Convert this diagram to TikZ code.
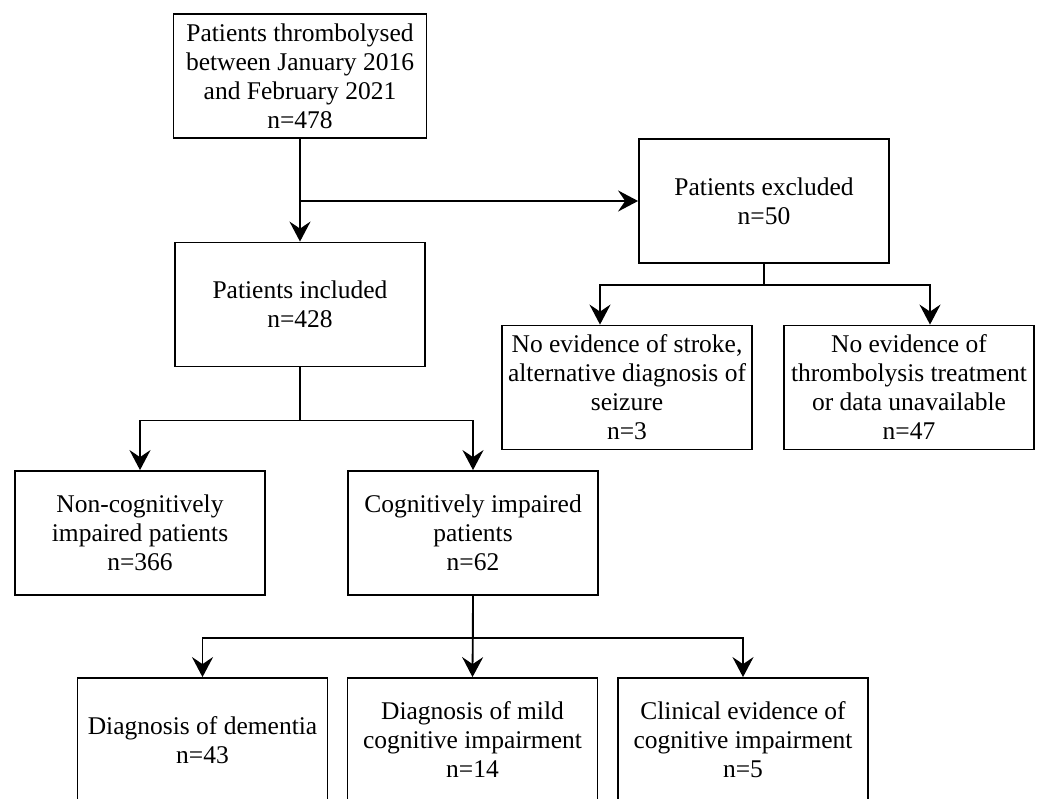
\documentclass[tikz,border=0pt]{standalone}
\usepackage{fontspec}
\setmainfont{Liberation Serif}
\usetikzlibrary{arrows.meta}

\begin{document}
\begin{tikzpicture}[x=1pt, y=-1pt,
  box/.style={draw, line width=1.8pt, minimum width=250pt, minimum height=124pt,
    inner sep=0pt, align=center, font=\fontsize{25.5}{29}\selectfont},
  arr/.style={line width=1.8pt, -{Stealth[length=20pt,width=21pt,inset=7pt]}}]
\useasboundingbox[fill=white] (0,0) rectangle (1041,799);
% Screening
\node[box, minimum width=253pt] (start) at (300,76) {Patients thrombolysed\\between January 2016\\and February 2021\\n=478};
\node[box] (incl) at (300,304.5) {Patients included\\n=428};
\node[box] (excl) at (764,201) {Patients excluded\\n=50};
% Exclusion reasons
\node[box] (stroke) at (627,387.5) {No evidence of stroke,\\alternative diagnosis of\\seizure\\n=3};
\node[box] (thromb) at (909,387.5) {No evidence of\\thrombolysis treatment\\or data unavailable\\n=47};
% Cognitive status
\node[box] (noncog) at (140,533) {Non-cognitively\\impaired patients\\n=366};
\node[box] (cog) at (473,533) {Cognitively impaired\\patients\\n=62};
% Type of impairment
\node[box] (dementia) at (202.5,740) {Diagnosis of dementia\\n=43};
\node[box] (mci) at (472.5,740) {Diagnosis of mild\\cognitive impairment\\n=14};
\node[box] (clinical) at (743,740) {Clinical evidence of\\cognitive impairment\\n=5};

\draw[arr] (start.south) -- (incl.north);
\draw[arr] (start.south |- excl.west) -- (excl.west);
\draw[arr] (excl.south) -- ++(0,21) -| ([xshift=-27pt]stroke.north);
\draw[arr] (excl.south) -- ++(0,21) -| ([xshift=21pt]thromb.north);
\draw[arr] (incl.south) -- ++(0,53) -| (noncog.north);
\draw[arr] (incl.south) -- ++(0,53) -| (cog.north);
\draw[arr] (cog.south) -- ++(0,42) -| (dementia.north);
\draw[arr] (cog.south) -- (mci.north);
\draw[arr] (cog.south) -- ++(0,42) -| (clinical.north);
\end{tikzpicture}
\end{document}
